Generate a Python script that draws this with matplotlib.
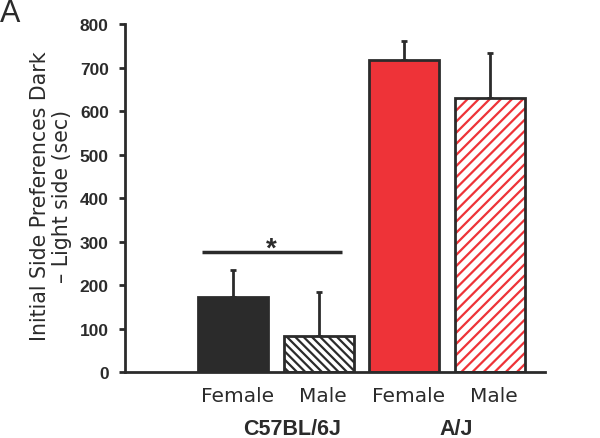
import matplotlib.pyplot as plt

plt.rcParams['font.family'] = ['Liberation Sans', 'DejaVu Sans']
plt.rcParams['hatch.linewidth'] = 1.6

# data
sexes = ["Female", "Male", "Female", "Male"]
strains = ["C57BL/6J", "A/J"]
means = [172, 83, 717, 630]
sems = [62, 101, 44, 103]
face_colors = ["#2b2b2b", "white", "#ee3338", "white"]
hatch_colors = ["#2b2b2b", "#2b2b2b", "#ee3338", "#ee3338"]
hatches = [None, "\\\\\\\\", None, "///"]

ink = "#2b2b2b"
wide = ['DejaVu Sans']  # regular text in the figure is wider than Arial

fig = plt.figure(figsize=(6, 4.39), dpi=100)
ax = fig.add_axes([0.208, 0.150, 0.700, 0.793])

pos = [1, 2, 3, 4]
for i in range(4):
    ax.bar(pos[i], means[i], width=0.82, color=face_colors[i], edgecolor=hatch_colors[i],
           hatch=hatches[i], linewidth=0, zorder=2)
    # outline drawn separately so it stays dark
    ax.bar(pos[i], means[i], width=0.82, fill=False, edgecolor=ink, linewidth=2, zorder=3)
    ax.errorbar(pos[i], means[i], yerr=[[0], [sems[i]]], fmt='none', ecolor=ink,
                elinewidth=2, capsize=2, capthick=2, zorder=1)

ax.set_xlim(-0.263, 4.64)
ax.set_ylim(0, 800)
ax.set_yticks(range(0, 801, 100))
ax.set_xticks([])
for s in ['top', 'right']:
    ax.spines[s].set_visible(False)
for s in ['left', 'bottom']:
    ax.spines[s].set_linewidth(2)
    ax.spines[s].set_color(ink)
ax.tick_params(axis='y', direction='out', length=4, width=2, color=ink,
               labelsize=12.5, labelcolor=ink, pad=7.5)
for lab in ax.get_yticklabels():
    lab.set_fontweight('bold')

fig.text(0.085, 0.552, "Initial Side Preferences Dark\n\u2013 Light side (sec)", fontsize=14.8,
         family=wide, color=ink, rotation=90, ha='center', va='center',
         multialignment='center', linespacing=1.15)

# x labels
for i in range(4):
    ax.text(pos[i] + 0.05, -66, sexes[i], ha='center', va='baseline', fontsize=14.5,
            family=wide, color=ink)
ax.text(1.69, -142, strains[0], ha='center', va='baseline', fontsize=15.5,
        fontweight='bold', color=ink)
ax.text(3.6, -142, strains[1], ha='center', va='baseline', fontsize=15.5,
        fontweight='bold', color=ink)

# significance
ax.plot([0.637, 2.27], [276, 276], color=ink, linewidth=2.5, solid_capstyle='butt')
ax.text(1.45, 267, "*", ha='center', va='baseline', fontsize=20, fontweight='bold', color=ink)

fig.text(0.0, 0.95, "A", fontsize=22, color=ink, va='baseline')

fig.savefig("out.png", dpi=100)
